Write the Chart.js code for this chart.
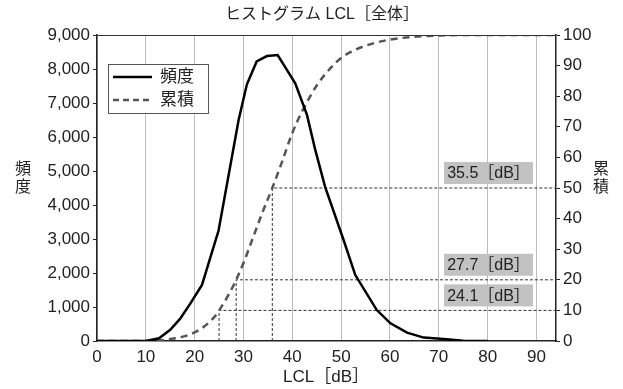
<!DOCTYPE html>
<html>
<head>
<meta charset="utf-8">
<script src="https://cdn.jsdelivr.net/npm/chart.js@4"></script>
<style>
html,body{margin:0;padding:0;background:#fff;}
#wrap{width:623px;height:389px;}
</style>
</head>
<body>
<div id="wrap"><canvas id="lclChart" width="623" height="389"></canvas></div>
<script>

// 頻度 (LCL dB, count)
const freqX = [0,10,12.7,15,17,19.1,21.5,24.9,29,30.7,32.7,34.8,37,38.7,40.6,43,44.7,46.7,50.5,52.9,57.3,60.1,63.5,66.9,71,75,80];
const freqY = [0,0,80,330,650,1100,1650,3250,6500,7550,8220,8380,8410,8020,7580,6650,5620,4540,2970,1940,910,520,245,100,60,10,0];

// 累積 (%)
const cumX = [0,10,12,14,16,18,20,22,24,25,26,28,28.5,30,32,34,35.9,38,40,42,45,48,50,52,55,60,65,70,75,80,94];
const cumY = [0,0,0.1,0.4,0.9,1.6,2.8,4.8,7.8,10,12.5,18.3,20,25.5,34,42.5,50,59,68,75,83.5,89.5,92.5,94.5,96.5,98.5,99.4,99.8,100,100,100];

// percentile markers
const markPct = [10,20,50];
const markX = [25.0,28.5,35.9];
const markLabel = ["24.1［dB］","27.7［dB］","35.5［dB］"];

const xTicks = [0,10,20,30,40,50,60,70,80,90];

const fontFamily =
"'Liberation Sans','Noto Sans CJK JP',Arial,sans-serif";

function toPoints(xs,ys){
    let pts=[];
    for(let i=0;i<xs.length;i++){
        pts.push({x:xs[i],y:ys[i]});
    }
    return pts;
}

let markerSets = [];
for(let i=0;i<markPct.length;i++){
    markerSets.push({
        label:"m"+i,
        data:[
            {x:markX[i],y:0},
            {x:markX[i],y:markPct[i]},
            {x:94,y:markPct[i]}
        ],
        yAxisID:"y1",
        borderColor:"#333",
        borderWidth:1,
        borderDash:[3,2],
        pointRadius:0,
        tension:0,
        order:5
    });
}

const extras = {
    id:"extras",
    afterDraw(chart){
        const ctx = chart.ctx;
        const a = chart.chartArea;
        const y1 = chart.scales.y1;
        ctx.save();

        // top border
        ctx.strokeStyle="#333";
        ctx.lineWidth=1;
        ctx.beginPath();
        ctx.moveTo(a.left,a.top+0.5);
        ctx.lineTo(a.right,a.top+0.5);
        ctx.stroke();

        // title
        ctx.fillStyle="#222";
        ctx.textAlign="center";
        ctx.textBaseline="middle";
        ctx.font="16px "+fontFamily;
        ctx.fillText("ヒストグラム LCL［全体］",322,15);

        // x title
        ctx.font="17px "+fontFamily;
        ctx.fillText("LCL［dB］",326,377);

        // y titles, stacked
        ctx.font="16px "+fontFamily;
        ctx.fillText("頻",23,170);
        ctx.fillText("度",23,188);
        ctx.fillText("累",601,170);
        ctx.fillText("積",601,188);

        // marker labels
        ctx.font="16px "+fontFamily;
        for(let i=0;i<markPct.length;i++){
            const py = y1.getPixelForValue(markPct[i]);
            const right = a.right-23;
            const w = 89, h = 22;
            ctx.fillStyle="#c2c2c2";
            ctx.fillRect(right-w,py-4-h,w,h);
            ctx.fillStyle="#222";
            ctx.textAlign="center";
            ctx.fillText(markLabel[i],right-w/2,py-4-h/2+1);
        }

        // legend
        ctx.fillStyle="#fff";
        ctx.fillRect(108,64,100,49);
        ctx.strokeStyle="#555";
        ctx.lineWidth=1;
        ctx.strokeRect(108.5,64.5,100,49);

        ctx.strokeStyle="#000";
        ctx.lineWidth=2.5;
        ctx.beginPath();
        ctx.moveTo(113,77);
        ctx.lineTo(152,77);
        ctx.stroke();

        ctx.strokeStyle="#555";
        ctx.setLineDash([6,4]);
        ctx.beginPath();
        ctx.moveTo(113,100);
        ctx.lineTo(152,100);
        ctx.stroke();
        ctx.setLineDash([]);

        ctx.fillStyle="#222";
        ctx.textAlign="left";
        ctx.font="17px "+fontFamily;
        ctx.fillText("頻度",160,77);
        ctx.fillText("累積",160,100);

        ctx.restore();
    }
};

const lclChart =
document.getElementById("lclChart");

new Chart(lclChart,{
    type:"line",
    data:{
        datasets:[
            {
                label:"頻度",
                data:toPoints(freqX,freqY),
                yAxisID:"y",
                borderColor:"#000",
                borderWidth:2.5,
                pointRadius:0,
                tension:0,
                order:1
            },
            {
                label:"累積",
                data:toPoints(cumX,cumY),
                yAxisID:"y1",
                borderColor:"#555",
                borderWidth:2.5,
                borderDash:[7,5],
                pointRadius:0,
                cubicInterpolationMode:"monotone",
                order:2
            }
        ].concat(markerSets)
    },
    options:{
        responsive:false,
        animation:false,
        layout:{padding:{top:35,left:0,right:0,bottom:0}},
        plugins:{
            legend:{display:false},
            title:{display:false},
            tooltip:{enabled:false}
        },
        scales:{
            x:{
                type:"linear",
                min:0,
                max:94,
                afterBuildTicks(scale){
                    scale.ticks = xTicks.map(v=>({value:v}));
                },
                afterFit(scale){
                    scale.height=48;
                },
                grid:{
                    color:"#bdbdbd",
                    lineWidth:1,
                    drawTicks:false
                },
                border:{color:"#222",width:1.5},
                ticks:{
                    color:"#222",
                    padding:6,
                    maxRotation:0,
                    font:{family:fontFamily,size:17}
                }
            },
            y:{
                position:"left",
                min:0,
                max:9000,
                afterFit(scale){
                    scale.width=97;
                },
                grid:{
                    drawOnChartArea:false,
                    tickLength:4,
                    color:"#222"
                },
                border:{color:"#222",width:1.5},
                ticks:{
                    stepSize:1000,
                    color:"#222",
                    padding:3,
                    font:{family:fontFamily,size:17},
                    callback:v=>v.toLocaleString("en-US")
                }
            },
            y1:{
                position:"right",
                min:0,
                max:100,
                afterFit(scale){
                    scale.width=67;
                },
                grid:{
                    drawOnChartArea:false,
                    tickLength:4,
                    color:"#222"
                },
                border:{color:"#222",width:1.5},
                ticks:{
                    stepSize:10,
                    color:"#222",
                    padding:3,
                    font:{family:fontFamily,size:17}
                }
            }
        }
    },
    plugins:[extras]
});
</script>
</body>
</html>
